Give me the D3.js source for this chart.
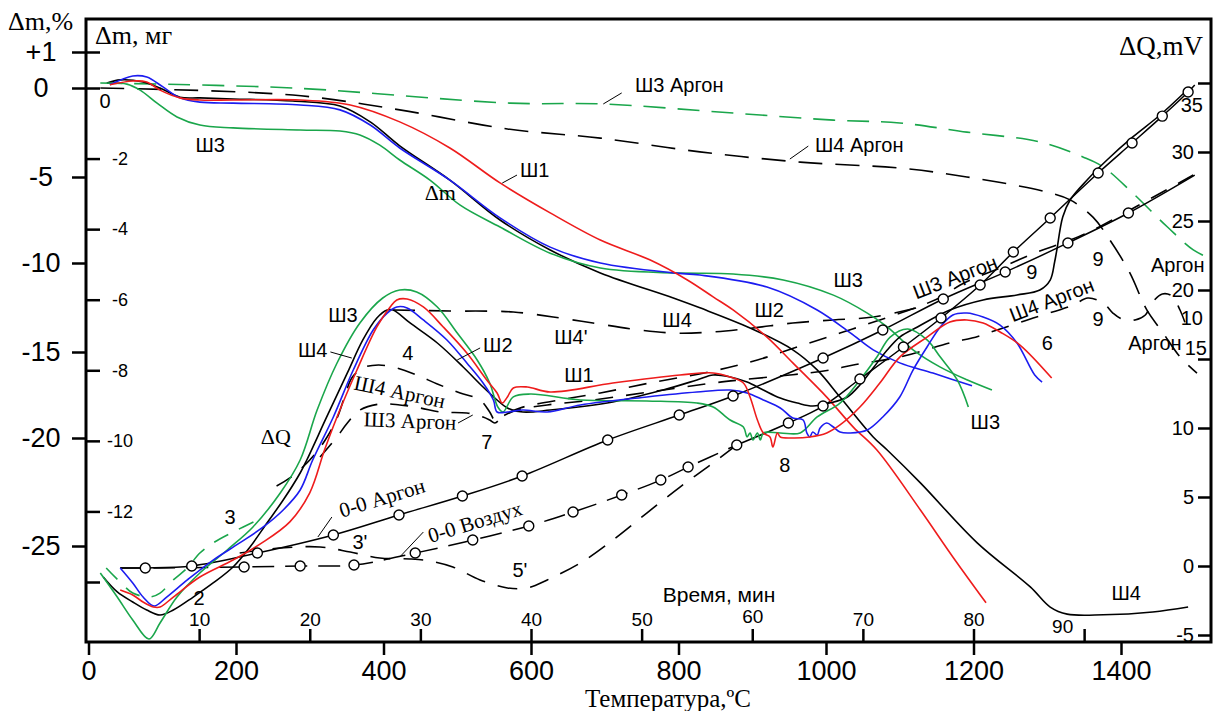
<!DOCTYPE html>
<html>
<head>
<meta charset="utf-8">
<script src="https://cdn.jsdelivr.net/npm/d3@7"></script>
<style>
  body { margin: 0; background: #fff; }
  text { font-family: "Liberation Sans", Arial, sans-serif; fill: #000; }
  .serif { font-family: "Liberation Serif", "Times New Roman", serif; }
</style>
</head>
<body>
<svg id="chart" width="1216" height="711"></svg>
<script>
// --- axes ---
var tempTicks = [0, 200, 400, 600, 800, 1000, 1200, 1400];
var timeTicks = [10, 20, 30, 40, 50, 60, 70, 80, 90];
var pctTicks = [1, 0, -5, -10, -15, -20, -25];
var mgTicks = [0, -2, -4, -6, -8, -10, -12, -14];
var qTicks = [-5, 0, 5, 10, 15, 20, 25, 30, 35];

// --- TG, mg: [T, dm] ---
var tgSh1 = [[29,0.09],[60,0.2],[79,0.17],[97,-0.06],[124,-0.28],[151,-0.34],[196,-0.34],[287,-0.34],[355,-0.48],[422,-0.96],[490,-1.7],[558,-2.69],[626,-3.54],[694,-4.31],[761,-4.87],[812,-5.44],[847,-5.92],[874,-6.29],[920,-7.06],[955,-7.79],[1001,-8.76],[1037,-9.61],[1069,-10.26],[1128,-11.96],[1172,-13.29],[1217,-14.59]];
var tgSh2 = [[29,0.09],[60,0.34],[79,0.31],[101,0.03],[124,-0.28],[151,-0.4],[196,-0.43],[287,-0.48],[341,-0.62],[382,-1.05],[422,-1.7],[490,-2.61],[558,-3.68],[626,-4.51],[694,-4.96],[793,-5.24],[829,-5.3],[920,-5.64],[988,-6.29],[1033,-6.94],[1064,-7.42],[1100,-7.79],[1145,-8.08],[1198,-8.44]];
var tgSh3 = [[25,0.14],[52,0.11],[70,-0.06],[93,-0.43],[120,-0.82],[151,-1.05],[196,-1.13],[287,-1.19],[341,-1.22],[368,-1.33],[395,-1.62],[422,-2.04],[463,-2.61],[504,-3.32],[558,-3.94],[626,-4.68],[694,-5.1],[793,-5.24],[874,-5.27],[942,-5.44],[1010,-5.87],[1056,-6.38],[1083,-6.77],[1118,-7.42],[1155,-7.91],[1191,-8.27],[1225,-8.56]];
var tgSh4 = [[25,0.14],[43,0.23],[74,0.17],[97,0],[124,-0.26],[151,-0.28],[196,-0.31],[277,-0.37],[341,-0.51],[382,-0.96],[422,-1.64],[490,-2.61],[558,-3.74],[626,-4.59],[694,-5.24],[793,-5.95],[829,-6.23],[897,-6.8],[955,-7.42],[988,-7.99],[1019,-8.76],[1064,-9.89],[1083,-10.26],[1128,-11.19],[1205,-12.89],[1277,-14.14],[1304,-14.71],[1327,-14.91],[1376,-14.93],[1443,-14.85],[1491,-14.71]];
var tgSh3Ar = [[16,0.14],[277,0],[572,-0.43],[694,-0.45],[874,-0.71],[1010,-0.91],[1100,-0.99],[1191,-1.25],[1290,-1.53],[1349,-1.96],[1376,-2.24],[1416,-2.98],[1463,-3.94],[1498,-4.59],[1520,-4.82]];
var tgSh4Ar = [[16,0],[277,-0.2],[422,-0.62],[568,-1.16],[694,-1.42],[829,-1.81],[965,-2.1],[1100,-2.27],[1191,-2.52],[1300,-2.95],[1331,-3.17],[1362,-3.66],[1385,-4.31],[1412,-5.24],[1435,-6.29],[1457,-6.94],[1480,-7.62],[1503,-8.08]];

// --- DTA, mV: [T, dQ] ---
var dtaSh1 = [[43,-1.74],[60,-2.1],[74,-2.61],[88,-2.97],[97,-2.97],[115,-2.25],[151,-0.8],[196,0.43],[233,1.6],[273,3.2],[300,5.3],[320,8.4],[337,10.8],[364,14.2],[391,17.32],[409,18.77],[418,19.28],[432,19.35],[454,18.77],[481,17.32],[513,15.43],[540,13.48],[554,12.54],[561,11.81],[568,12.25],[576,12.9],[595,12.97],[626,12.61],[711,13.26],[802,13.84],[847,13.99],[870,13.7],[888,13.26],[897,12.25],[907,10.58],[915,9.64],[924,9.35],[928,8.62],[934,9.64],[938,9.35],[955,9.28],[978,9.35],[1001,9.64],[1019,10.22],[1046,11.52],[1073,13.26],[1100,15.14],[1137,16.59],[1168,17.68],[1191,17.83],[1213,17.61],[1236,16.96],[1263,16.01],[1306,13.62]];
var dtaSh2 = [[43,-0.14],[60,-1.23],[74,-2.25],[89,-2.9],[106,-2.25],[134,-1.01],[169,0.43],[205,1.67],[237,2.83],[264,4.06],[287,5.51],[304,7.68],[332,10.8],[359,14.2],[386,17.1],[405,18.33],[418,18.77],[432,18.7],[454,17.83],[486,16.38],[513,14.71],[535,13.26],[549,12.03],[554,11.16],[568,11.16],[589,11.3],[622,11.16],[667,11.67],[757,12.25],[825,12.61],[870,12.75],[893,12.54],[915,12.03],[938,11.45],[955,10.72],[969,10.58],[974,9.64],[978,9.35],[982,9.71],[988,9.49],[992,10.0],[1001,10.36],[1010,10.07],[1019,9.71],[1033,9.64],[1056,9.86],[1077,10.8],[1100,12.25],[1118,14.2],[1137,15.87],[1155,17.32],[1172,18.19],[1191,18.33],[1213,18.04],[1236,17.46],[1259,16.16],[1283,13.84],[1293,13.33]];
var dtaSh3 = [[16,-0.51],[39,-2.25],[60,-3.91],[82,-5.29],[97,-4.13],[120,-2.25],[151,-0.51],[188,1.16],[223,2.83],[260,5.29],[287,7.68],[310,11.3],[337,14.71],[368,17.61],[399,19.42],[422,20.0],[445,19.86],[473,18.77],[500,16.88],[527,14.93],[544,13.26],[555,11.52],[562,11.16],[576,12.25],[599,12.46],[667,12.03],[757,11.96],[825,11.81],[847,11.52],[870,10.58],[888,10.07],[893,9.35],[897,9.64],[901,9.13],[907,9.64],[911,9.13],[915,9.64],[938,9.64],[965,9.64],[988,10.8],[1019,11.81],[1046,13.48],[1069,15.14],[1087,16.59],[1111,17.17],[1137,16.38],[1155,15.14],[1178,13.48],[1193,11.52]];
var dtaSh4 = [[20,-0.8],[39,-1.88],[60,-2.61],[79,-3.19],[97,-3.55],[115,-3.19],[142,-2.25],[169,-1.23],[196,-0.07],[219,1.38],[242,3.12],[264,4.78],[287,6.74],[296,7.68],[323,10.8],[351,13.99],[372,16.38],[391,17.97],[405,18.55],[413,18.55],[436,17.61],[473,16.16],[508,14.42],[535,12.97],[554,12.03],[568,11.45],[589,11.16],[626,11.3],[711,11.88],[779,12.75],[825,13.48],[847,13.84],[870,13.7],[893,13.33],[915,12.75],[938,12.17],[961,11.81],[982,11.59],[1005,11.81],[1029,12.25],[1046,13.12],[1064,14.35],[1083,15.65],[1100,16.59],[1124,17.32],[1168,18.55],[1213,19.28],[1259,19.64],[1290,20.0],[1304,20.72],[1310,22.03],[1313,22.9],[1321,25.29],[1331,26.52],[1354,27.97],[1381,29.42],[1416,31.09],[1453,32.68],[1494,34.71]];
var dtaSh4top = [[413,18.55],[490,18.48],[576,18.41],[630,18.04],[684,17.61],[738,17.17],[793,16.88],[847,16.96],[901,17.25],[955,17.61],[1010,17.83],[1064,18.04],[1128,18.77]];
var dtaSh3ArStart = [[24,-0.14],[47,-1.38],[60,-1.96],[83,-2.25],[97,-1.96],[115,-1.01],[134,-0.14],[151,0.94],[169,1.67],[196,2.46],[229,3.33]];
var dtaSh3Ar = [[314,7.9],[337,9.35],[351,10.36],[368,11.3],[395,11.74],[422,11.67],[450,11.45],[477,11.16],[513,11.09],[535,10.8],[544,10.58],[551,10.36],[562,10.87],[585,11.45],[639,12.03],[694,12.54],[761,13.26],[847,14.13],[907,14.93],[965,15.94],[1019,16.88],[1073,17.83],[1128,18.84],[1159,19.57],[1182,20.36],[1212,21.09],[1236,21.59],[1286,22.75],[1313,23.26],[1331,23.62],[1362,24.35],[1444,26.74],[1498,28.33]];
var dtaSh4Ar = [[255,5.8],[273,6.38],[300,7.68],[321,9.13],[337,10.72],[348,12.39],[357,13.62],[372,14.35],[393,14.57],[418,14.35],[445,13.84],[473,13.19],[504,12.54],[531,12.03],[544,11.16],[551,10.58],[562,10.87],[581,11.3],[622,11.67],[684,12.03],[761,12.61],[847,13.26],[883,13.48],[951,13.84],[1005,14.2],[1037,14.57],[1100,15.14],[1172,16.23],[1198,16.52],[1232,17.1],[1281,17.97],[1335,18.91],[1355,19.42],[1376,19.06],[1389,18.33],[1401,17.9],[1419,17.83],[1433,18.19],[1442,19.06],[1456,19.71],[1469,19.57],[1480,18.55],[1488,17.46]];
var dta35 = [[205,0.94],[260,1.3],[314,1.38],[355,1.01],[395,0.58],[436,0.51],[463,0.36],[494,-0.07],[531,-1.01],[568,-1.59],[595,-1.59],[622,-1.01],[667,0.22],[711,1.88],[757,3.84],[802,5.72],[843,7.32],[879,8.77]];
// 0-0 baselines
var ooArgon = [[43,-0.14],[77,-0.14],[140,0],[229,0.94],[332,2.25],[421,3.7],[507,5.07],[588,6.52],[704,9.13],[801,10.94],[874,12.32],[996,15.07],[1077,17.1],[1159,19.35],[1243,21.3],[1328,23.41],[1410,25.58],[1500,28.33]];
var ooAir = [[43,-0.14],[97,-0.14],[211,-0.07],[287,0],[360,0.07],[443,0.94],[521,1.88],[597,2.9],[657,3.91],[723,5.14],[776,6.23],[813,7.17],[879,8.77],[949,10.36],[996,11.59],[1046,13.55],[1105,15.87],[1156,17.97],[1209,20.36],[1254,22.75],[1304,25.22],[1369,28.48],[1415,30.65],[1456,32.6],[1491,34.35],[1500,34.86]];
var airDashedUntil = 879;

// --- labels, [text, T, dQ] ---
var labels = [
  ['Ш3',165,30.51],['Ш1',605,28.7],['Ш3 Аргон',801,34.86],['Ш4 Аргон',1045,30.51],
  ['Ш3',1030,20.72],['Ш2',923,18.55],['Ш4',798,17.83],['Ш4\'',654,16.59],
  ['Ш2',555,16.01],['Ш3',345,18.19],['Ш4',304,15.65],['4',433,15.43],
  ['Ш1',665,13.84],['7',540,8.99],['8',944,7.32],['3',192,3.55],
  ['3\'',368,1.74],['5\'',585,-0.29],['2',150,-2.3],['Ш3',1216,10.43],
  ['6',1300,16.16],['9',1279,21.3],['9',1369,22.25],['9',1369,17.9],
  ['Аргон',1477,21.81],['Аргон',1446,16.16],['10',1496,17.97],['Ш4',1407,-1.96],
  ['Время, мин',855,-2.1]
];
var rotLabels = [['Ш3 Аргон',1175,20.94,-21],['Ш4 Аргон',1306,19.28,-21]];
var serifLabels = [
  ['Δm',477,27.1,0],['ΔQ',254,9.35,0],['Ш4 Аргон',422,12.61,12],['Ш3 Аргон',436,10.51,2],
  ['0-0 Аргон',398,4.93,-17],['0-0 Воздух',524,3.19,-17]
];
var leaders = [
  [[698,33.48],[723,34.28]],[[951,29.49],[976,30.43]],[[561,27.75],[581,28.33]],
  [[500,14.93],[531,15.8]],[[328,15.51],[357,15.07]],[[501,10.36],[521,10.94]],
  [[330,3.55],[311,2.1]],[[454,2.46],[422,0.65]]
];

var svg = d3.select('#chart');
var box = { left: 86, right: 1211, top: 19, bottom: 642 };

var x = d3.scaleLinear().domain([0, 1400]).range([88.5, 1121]);
var xTime = d3.scaleLinear().domain([0, 90]).range([x(0), x(1350)]);
var yPct = d3.scaleLinear().domain(pctTicks).range([52, 88, 177, 263, 352, 438, 546]);
var yMg = d3.scaleLinear().domain([0, -14]).range([88, 582]);
var yQ = d3.scaleLinear().domain([0, 35]).range([566, 83]);

var RED = '#ee1c1c', BLUE = '#1c1cf0', GREEN = '#1aa64b';

svg.append('clipPath').attr('id', 'clip').append('rect')
  .attr('x', box.left).attr('y', box.top)
  .attr('width', box.right - box.left).attr('height', box.bottom - box.top);
var plot = svg.append('g').attr('clip-path', 'url(#clip)');

function drawLine(data, yScale, color, dash, width) {
  var line = d3.line()
    .x(function(d) { return x(d[0]); })
    .y(function(d) { return yScale(d[1]); })
    .curve(d3.curveCatmullRom.alpha(0.5));
  plot.append('path').datum(data)
    .attr('d', line)
    .attr('fill', 'none')
    .attr('stroke', color)
    .attr('stroke-width', width || 1.6)
    .attr('stroke-dasharray', dash || null);
}

// dashed argon curves
drawLine(tgSh4Ar, yMg, '#000', '24,13');
drawLine(tgSh3Ar, yMg, GREEN, '22,12');
drawLine(dtaSh4top, yQ, '#000', '22,14');
drawLine(dtaSh3Ar, yQ, '#000', '18,13');
drawLine(dtaSh4Ar, yQ, '#000', '18,13');
drawLine(dtaSh3ArStart, yQ, GREEN, '16,12');
drawLine(dta35, yQ, '#000', '20,13');

// 0-0 lines
drawLine(ooArgon, yQ, '#000', null, 1.5);
drawLine(ooAir.filter(function(d) { return d[0] <= airDashedUntil; }), yQ, '#000', '22,11', 1.5);
drawLine(ooAir.filter(function(d) { return d[0] >= airDashedUntil; }), yQ, '#000', null, 1.5);

// solid curves
drawLine(tgSh4, yMg, '#000');
drawLine(tgSh3, yMg, GREEN);
drawLine(tgSh2, yMg, BLUE);
drawLine(tgSh1, yMg, RED);
drawLine(dtaSh4, yQ, '#000');
drawLine(dtaSh3, yQ, GREEN);
drawLine(dtaSh2, yQ, BLUE);
drawLine(dtaSh1, yQ, RED);

// circle markers
plot.selectAll('circle.ar').data(ooArgon.slice(1, -1)).enter().append('circle')
  .attr('cx', function(d) { return x(d[0]); }).attr('cy', function(d) { return yQ(d[1]); })
  .attr('r', 5).attr('fill', '#fff').attr('stroke', '#000').attr('stroke-width', 1.4);
plot.selectAll('circle.air').data(ooAir.slice(2, -1)).enter().append('circle')
  .attr('cx', function(d) { return x(d[0]); }).attr('cy', function(d) { return yQ(d[1]); })
  .attr('r', 5).attr('fill', '#fff').attr('stroke', '#000').attr('stroke-width', 1.4);

// leader lines
leaders.forEach(function(l) {
  svg.append('line')
    .attr('x1', x(l[0][0])).attr('y1', yQ(l[0][1]))
    .attr('x2', x(l[1][0])).attr('y2', yQ(l[1][1]))
    .attr('stroke', '#000').attr('stroke-width', 1);
});

// labels
labels.forEach(function(l) {
  svg.append('text').attr('x', x(l[1])).attr('y', yQ(l[2]))
    .attr('text-anchor', 'middle').attr('dominant-baseline', 'central')
    .style('font-size', l[0] === 'Время, мин' ? '21px' : '20px')
    .text(l[0]);
});
rotLabels.forEach(function(l) {
  svg.append('text')
    .attr('transform', 'translate(' + x(l[1]) + ',' + yQ(l[2]) + ') rotate(' + l[3] + ')')
    .attr('text-anchor', 'middle').attr('dominant-baseline', 'central')
    .style('font-size', '20px').text(l[0]);
});
serifLabels.forEach(function(l) {
  svg.append('text').attr('class', 'serif')
    .attr('transform', 'translate(' + x(l[1]) + ',' + yQ(l[2]) + ') rotate(' + l[3] + ')')
    .attr('text-anchor', 'middle').attr('dominant-baseline', 'central')
    .style('font-size', l[0].length < 3 ? '22px' : '21px').text(l[0]);
});

// frame
svg.append('rect').attr('x', box.left).attr('y', box.top)
  .attr('width', box.right - box.left).attr('height', box.bottom - box.top)
  .attr('fill', 'none').attr('stroke', '#000').attr('stroke-width', 3);

// left %, outer
var gPct = svg.append('g').attr('transform', 'translate(' + box.left + ',0)')
  .call(d3.axisLeft(yPct).tickValues(pctTicks).tickSize(14)
    .tickFormat(function(d) { return d > 0 ? '+' + d : String(d); }));
gPct.select('.domain').remove();
gPct.selectAll('line').attr('stroke-width', 2.5)
  .attr('x1', function(d) { return d === 1 ? 14 : 0; });
gPct.selectAll('text').attr('x', -45).attr('text-anchor', 'middle')
  .style('font-size', '27px').style('font-family', '"Liberation Sans", Arial, sans-serif');

// left mg, inner
var gMg = svg.append('g').attr('transform', 'translate(' + box.left + ',0)')
  .call(d3.axisRight(yMg).tickValues(mgTicks).tickSize(14)
    .tickFormat(function(d) { return d === -14 ? '' : String(d); }));
gMg.select('.domain').remove();
gMg.selectAll('line').attr('stroke-width', 2.5);
gMg.selectAll('text').attr('x', function(d) { return d === 0 ? 19 : 34; })
  .attr('dy', function(d) { return d === 0 ? '0.95em' : '0.32em'; })
  .attr('text-anchor', 'middle')
  .style('font-size', function(d) { return d === 0 ? '20px' : '18px'; })
  .style('font-family', '"Liberation Sans", Arial, sans-serif');

// right dQ
var gQ = svg.append('g').attr('transform', 'translate(' + box.right + ',0)')
  .call(d3.axisLeft(yQ).tickValues(qTicks).tickSize(13).tickPadding(4)
    .tickFormat(function(d) { return String(d); }));
gQ.select('.domain').remove();
gQ.selectAll('line').attr('stroke-width', 2.5);
gQ.selectAll('text')
  .attr('x', function(d) { return d === 35 ? -8 : (d === 15 ? -4 : -17); })
  .attr('dy', function(d) { return d === 35 ? '1.4em' : (d === 15 ? '-0.25em' : '0.32em'); })
  .style('font-size', '20px').style('font-family', '"Liberation Sans", Arial, sans-serif');

// bottom temperature
var gT = svg.append('g').attr('transform', 'translate(0,' + box.bottom + ')')
  .call(d3.axisBottom(x).tickValues(tempTicks).tickSize(13).tickPadding(6)
    .tickFormat(function(d) { return String(d); }));
gT.select('.domain').remove();
gT.selectAll('line').attr('stroke-width', 2.5);
gT.selectAll('text').style('font-size', '27px').style('font-family', '"Liberation Sans", Arial, sans-serif');

// time, inside
var gTime = svg.append('g').attr('transform', 'translate(0,' + box.bottom + ')')
  .call(d3.axisTop(xTime).tickValues(timeTicks).tickSize(13).tickPadding(3)
    .tickFormat(function(d) { return String(d); }));
gTime.select('.domain').remove();
gTime.selectAll('line').attr('stroke-width', 2.5);
gTime.selectAll('text')
  .attr('x', function(d) { return d === 90 ? -22 : 0; })
  .attr('y', function(d) { return d === 90 ? -9 : (d === 60 ? -19 : -16); })
  .style('font-size', '19px').style('font-family', '"Liberation Sans", Arial, sans-serif');

// axis titles
svg.append('text').attr('class', 'serif').attr('x', 8).attr('y', 30).style('font-size', '26px').text('Δm,%');
svg.append('text').attr('class', 'serif').attr('x', 95).attr('y', 44).style('font-size', '26px').text('Δm, мг');
svg.append('text').attr('class', 'serif').attr('x', 1203).attr('y', 55).attr('text-anchor', 'end').style('font-size', '27px').text('ΔQ,mV');
svg.append('text').attr('class', 'serif').attr('x', 668).attr('y', 707).attr('text-anchor', 'middle').style('font-size', '25px').text('Температура,ºС');
</script>
</body>
</html>
